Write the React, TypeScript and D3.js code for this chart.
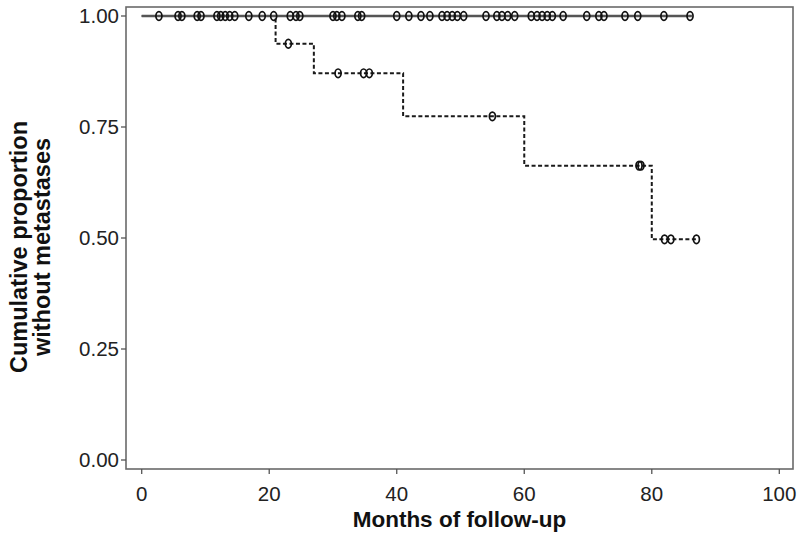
import React from "react";
import * as d3 from "d3";

// group without events: follow-up times of censored patients (months)
const solidCensored = [
  2.7, 5.7, 6.3, 8.7, 9.3, 11.8, 12.4, 13.1, 13.8, 14.6, 16.8, 18.9, 20.7,
  23.3, 24.2, 24.8, 30.0, 30.6, 31.4, 33.9, 34.5, 40.0, 41.9, 43.8, 45.2,
  47.1, 47.9, 48.7, 49.5, 50.5, 54.0, 55.7, 56.5, 57.4, 58.5, 61.1, 62.0,
  62.8, 63.6, 64.4, 66.1, 69.8, 71.7, 72.5, 75.8, 77.8, 81.9, 86.0,
];
const solidEnd = 86.3;

// group with events: step times and survival after each step
const dashedTimes = [0, 21, 27, 41, 60, 80];
const dashedSurv = [1, 0.9375, 0.871, 0.774, 0.663, 0.497];
const dashedCensored = [23, 30.8, 34.8, 35.7, 55, 78, 78.3, 82, 83, 87];
const dashedEnd = 87;

const xTicks = [0, 20, 40, 60, 80, 100];
const yTicks = [0, 0.25, 0.5, 0.75, 1];

const W = 800;
const H = 535;
const panel = { left: 126, right: 793, top: 7, bottom: 469 };

export default function App() {
  const x = d3.scaleLinear().domain([0, 100]).range([141.7, 779.3]);
  const y = d3.scaleLinear().domain([0, 1]).range([460, 16]);

  const step = d3
    .line<[number, number]>()
    .x((d) => x(d[0]))
    .y((d) => y(d[1]))
    .curve(d3.curveStepAfter);

  const solidPts: [number, number][] = [
    [0, 1],
    [solidEnd, 1],
  ];
  const dashedPts: [number, number][] = dashedTimes.map((t, i) => [t, dashedSurv[i]]);
  dashedPts.push([dashedEnd, dashedSurv[dashedSurv.length - 1]]);

  // survival value at time t for the stepped group
  const survAt = (t: number) => {
    let s = 1;
    dashedTimes.forEach((tt, i) => {
      if (tt <= t) s = dashedSurv[i];
    });
    return s;
  };

  const font = "'Liberation Sans', Arial, Helvetica, sans-serif";

  return (
    <svg
      width={W}
      height={H}
      style={{ position: "absolute", left: 0, top: 0, background: "#fff" }}
      fontFamily={font}
    >
      <rect
        x={panel.left}
        y={panel.top}
        width={panel.right - panel.left}
        height={panel.bottom - panel.top}
        fill="none"
        stroke="#6a6a6a"
        strokeWidth={1.6}
      />

      {/* y axis */}
      {yTicks.map((t) => (
        <g key={"y" + t}>
          <line x1={121} x2={panel.left} y1={y(t)} y2={y(t)} stroke="#555" strokeWidth={1.3} />
          <text
            x={119}
            y={y(t)}
            dy="0.36em"
            textAnchor="end"
            fontSize={20.5}
            fill="#222"
          >
            {t.toFixed(2)}
          </text>
        </g>
      ))}

      {/* x axis */}
      {xTicks.map((t) => (
        <g key={"x" + t}>
          <line x1={x(t)} x2={x(t)} y1={panel.bottom} y2={panel.bottom + 5} stroke="#555" strokeWidth={1.3} />
          <text x={x(t)} y={501} textAnchor="middle" fontSize={20.5} fill="#222">
            {t}
          </text>
        </g>
      ))}

      <text
        x={(panel.left + panel.right) / 2}
        y={527}
        textAnchor="middle"
        fontSize={22.5}
        fontWeight="bold"
        fill="#111"
      >
        Months of follow-up
      </text>

      <g transform="translate(0,247) rotate(-90)" fontSize={23.5} fontWeight="bold" fill="#111">
        <text x={0} y={27} textAnchor="middle">
          Cumulative proportion
        </text>
        <text x={0} y={50} textAnchor="middle">
          without metastases
        </text>
      </g>

      {/* stepped (dashed) group */}
      <path
        d={step(dashedPts) || ""}
        fill="none"
        stroke="#1a1a1a"
        strokeWidth={2}
        strokeDasharray="4 2.5"
      />
      {dashedCensored.map((t, i) => (
        <ellipse
          key={"dc" + i}
          cx={x(t)}
          cy={y(survAt(t))}
          rx={3}
          ry={4.3}
          fill="none"
          stroke="#111"
          strokeWidth={1.7}
        />
      ))}

      {/* flat (solid) group */}
      <path d={step(solidPts) || ""} fill="none" stroke="#555" strokeWidth={2.6} />
      {solidCensored.map((t, i) => (
        <ellipse
          key={"sc" + i}
          cx={x(t)}
          cy={y(1)}
          rx={3}
          ry={4.3}
          fill="none"
          stroke="#111"
          strokeWidth={1.7}
        />
      ))}
    </svg>
  );
}
